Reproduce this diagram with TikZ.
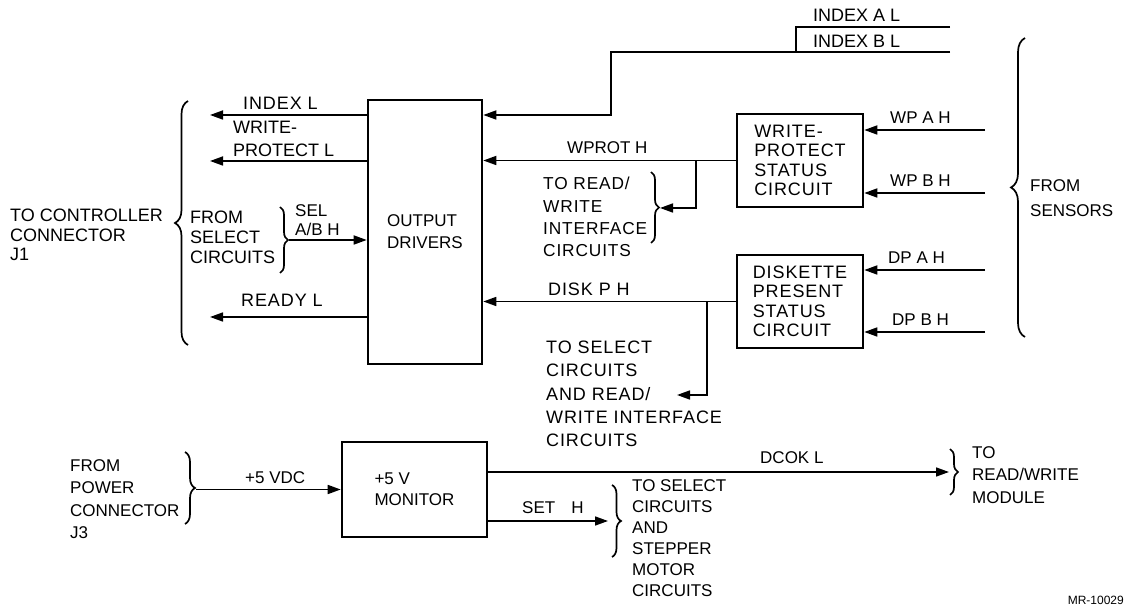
\documentclass[tikz,border=0pt]{standalone}
\usepackage{fontspec}
\setmainfont{Liberation Sans}
\newfontfamily\wf{Liberation Sans}[LetterSpace=5]
\usetikzlibrary{arrows.meta,decorations.pathreplacing}
\begin{document}
\begin{tikzpicture}[x=1pt,y=-1pt,
  lbl/.style={font=\fontsize{17}{22.5}\selectfont, inner sep=0pt, align=left, anchor=west},
  wlbl/.style={lbl, font=\wf\fontsize{18}{22.5}\selectfont},
  box/.style={draw, line width=2.6pt, inner sep=0pt, align=left, font=\wf\fontsize{18}{19.5}\selectfont},
  wire/.style={line width=1.7pt},
  arr/.style={wire, -{Triangle[length=13pt,width=9pt]}},
  br/.style={line width=1.7pt, decorate, decoration={brace, amplitude=#1}},
]
\useasboundingbox (0,0) rectangle (1128,609);

% ---------- boxes ----------
\node[box, minimum width=114pt, minimum height=264pt, font=\fontsize{17}{22}\selectfont] (od) at (425,232) {OUTPUT\\DRIVERS};
\node[box, minimum width=126pt, minimum height=93pt] (wp) at (800,160.5) {WRITE-\\PROTECT\\STATUS\\CIRCUIT};
\node[box, minimum width=126pt, minimum height=93pt] (dp) at (800,301.5) {DISKETTE\\PRESENT\\STATUS\\CIRCUIT};
\node[box, minimum width=145pt, minimum height=95pt, font=\fontsize{17}{21}\selectfont] (mon) at (414.5,489.5) {+5 V\\MONITOR};

% ---------- left side outputs ----------
\coordinate (idxL) at (210,115);
\coordinate (wpL) at (210,161);
\coordinate (rdyL) at (210,317);
\draw[arr] (od.west |- idxL) -- (idxL);
\draw[arr] (od.west |- wpL) -- (wpL);
\draw[arr] (od.west |- rdyL) -- (rdyL);
\node[wlbl] (tIdxL) at (243,103) {INDEX L};
\node[lbl, font=\fontsize{18}{23}\selectfont] (tWpL) at (233,139) {WRITE-\\PROTECT L};
\node[wlbl] (tRdy) at (241,300) {READY L};

\draw[br=13] (188,345) -- (188,101);
\node[lbl, font=\fontsize{18}{19.5}\selectfont] (tCtl) at (10,235) {TO CONTROLLER\\CONNECTOR\\J1};

\node[lbl, font=\fontsize{18}{20}\selectfont] (tFsel) at (190,237) {FROM\\SELECT\\CIRCUITS};
\draw[br=8] (280,207) -- (280,273);
\coordinate (sel) at (289,240);
\draw[arr] (sel) -- (od.west |- sel);
\node[lbl, font=\fontsize{17}{19}\selectfont] (tSel) at (295,220) {SEL\\A/B H};

% ---------- index lines ----------
\coordinate (iA1) at (796,27);
\coordinate (iA2) at (950,27);
\coordinate (iB1) at (611,52);
\coordinate (iB2) at (950,52);
\coordinate (iC) at (611,115);
\draw[wire] (iA2) -- (iA1) -- (iA1 |- iB2);
\draw[arr] (iB2) -- (iB1) -- (iC) -- (od.east |- iC);
\node[lbl, font=\fontsize{18}{20}\selectfont] (tIA) at (813,15) {INDEX A L};
\node[lbl, font=\fontsize{18}{20}\selectfont] (tIB) at (813,41) {INDEX B L};

% ---------- write protect ----------
\coordinate (wpa) at (985,130);
\coordinate (wpb) at (985,193);
\draw[arr] (wpa) -- (wp.east |- wpa);
\draw[arr] (wpb) -- (wp.east |- wpb);
\node[lbl] (tWpa) at (890,118) {WP A H};
\node[lbl] (tWpb) at (890,181) {WP B H};
\draw[arr] (wp.west) -- (od.east |- wp.west);
\node[lbl] (tWprot) at (567,148) {WPROT H};
\coordinate (wpj) at (696,160.5);
\coordinate (wpk) at (696,208);
\coordinate (wpt) at (660,208);
\draw[arr] (wpj) -- (wpk) -- (wpt);
\draw[br=8] (651,172) -- (651,243);
\node[lbl, font=\wf\fontsize{17.3}{22.3}\selectfont] (tRW) at (543,217) {TO READ/\\WRITE\\INTERFACE\\CIRCUITS};

% ---------- diskette present ----------
\coordinate (dpa) at (985,270);
\coordinate (dpb) at (985,332);
\draw[arr] (dpa) -- (dp.east |- dpa);
\draw[arr] (dpb) -- (dp.east |- dpb);
\node[lbl] (tDpa) at (888,258) {DP A H};
\node[lbl] (tDpb) at (892,320) {DP B H};
\draw[arr] (dp.west) -- (od.east |- dp.west);
\node[wlbl] (tDisk) at (548,289) {DISK P H};
\coordinate (dpj) at (707,301.5);
\coordinate (dpk) at (707,395);
\coordinate (dpt) at (677,395);
\draw[arr] (dpj) -- (dpk) -- (dpt);
\node[wlbl, font=\wf\fontsize{18}{23.3}\selectfont] (tSelRW) at (546,394) {TO SELECT\\CIRCUITS\\AND READ/\\WRITE INTERFACE\\CIRCUITS};

% ---------- sensors ----------
\draw[br=14] (1025,337) -- (1025,38);
\node[lbl, font=\fontsize{17}{25}\selectfont] (tSens) at (1030,198) {FROM\\SENSORS};

% ---------- power / monitor ----------
\node[lbl] (tPwr) at (70,499) {FROM\\POWER\\CONNECTOR\\J3};
\draw[br=10] (185,452) -- (185,524);
\coordinate (pwr) at (196,489.5);
\draw[arr] (pwr) -- (mon.west);
\node[lbl] (tVdc) at (245,478) {+5 VDC};

\coordinate (dcok) at (949,472);
\draw[arr] (mon.east |- dcok) -- (dcok);
\node[lbl] (tDcok) at (760,458) {DCOK L};
\draw[br=8] (950,449) -- (950,495);
\node[lbl] (tMod) at (972,475) {TO\\READ/WRITE\\MODULE};

\coordinate (seth) at (608,521);
\draw[arr] (mon.east |- seth) -- (seth);
\node[lbl] (tSet) at (522,508) {SET\hspace{16pt}H};
\draw[br=9] (612,485) -- (612,557);
\node[lbl, font=\fontsize{17}{21}\selectfont] (tStep) at (632,538) {TO SELECT\\CIRCUITS\\AND\\STEPPER\\MOTOR\\CIRCUITS};

\node[inner sep=0pt, anchor=east, font=\fontsize{12}{13}\selectfont] (tMR) at (1124,600) {MR-10029};
\end{tikzpicture}
\end{document}
